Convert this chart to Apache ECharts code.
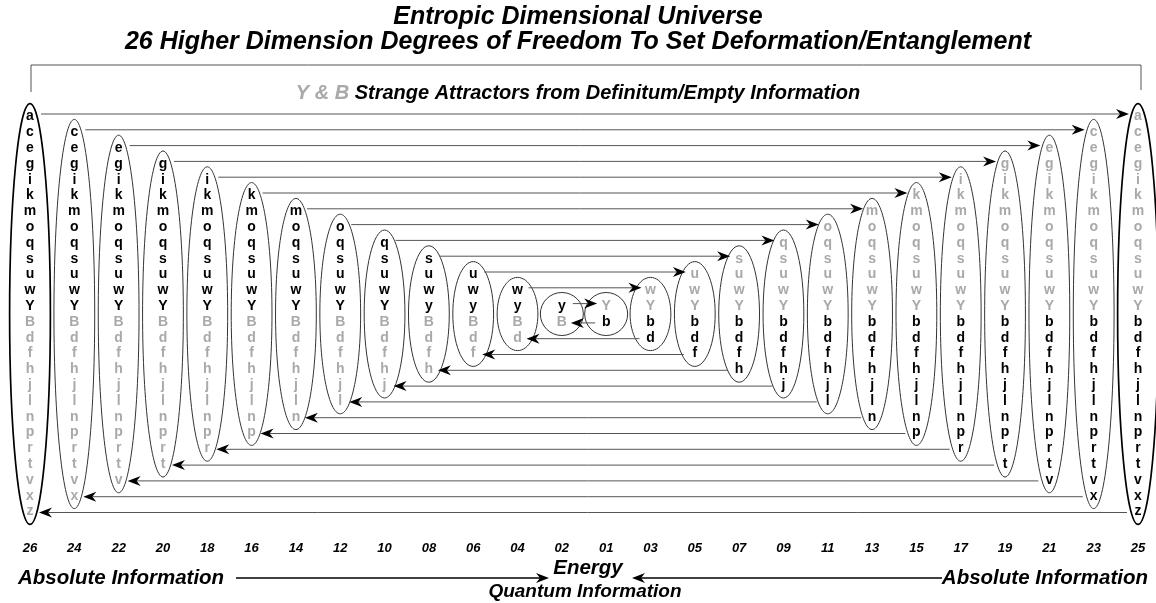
<!DOCTYPE html>
<html>
<head>
<meta charset="utf-8">
<script src="https://cdn.jsdelivr.net/npm/echarts@6/dist/echarts.min.js"></script>
<style>
  html, body { margin: 0; padding: 0; background: #fff; }
  #main { width: 1156px; height: 603px; }
</style>
</head>
<body>
<div id="main"></div>
<script>
// columns: left half 26..02, then right half 01..25
var columnLabels = ['26', '24', '22', '20', '18', '16', '14', '12', '10', '08', '06', '04', '02',
  '01', '03', '05', '07', '09', '11', '13', '15', '17', '19', '21', '23', '25']

// letters inside each ellipse, top to bottom
var columnLetters = [
  'acegikmoqsuwYBdfhjlnprtvxz',
  'cegikmoqsuwYBdfhjlnprtvx',
  'egikmoqsuwYBdfhjlnprtv',
  'gikmoqsuwYBdfhjlnprt',
  'ikmoqsuwYBdfhjlnpr',
  'kmoqsuwYBdfhjlnp',
  'moqsuwYBdfhjln',
  'oqsuwYBdfhjl',
  'qsuwYBdfhj',
  'suwyBdfh',
  'uwyBdf',
  'wyBd',
  'yB',
  'Yb',
  'wYbd',
  'uwYbdf',
  'suwYbdfh',
  'qsuwYbdfhj',
  'oqsuwYbdfhjl',
  'moqsuwYbdfhjln',
  'kmoqsuwYbdfhjlnp',
  'ikmoqsuwYbdfhjlnpr',
  'gikmoqsuwYbdfhjlnprt',
  'egikmoqsuwYbdfhjlnprtv',
  'cegikmoqsuwYbdfhjlnprtvx',
  'acegikmoqsuwYbdfhjlnprtvxz'
]

var FONT = '"Liberation Sans", Arial, Helvetica, sans-serif'
var GREY = '#a9a9a9'

window.onload = function () {
  var chart = echarts.init(document.getElementById('main'))

  // letters: left columns black on top, right columns black on bottom
  var letterItems = []
  columnLetters.forEach(function (s, col) {
    var n = s.length
    for (var i = 0; i < n; i++) {
      var firstHalf = i < n / 2
      var black = col < 13 ? firstHalf : !firstHalf
      letterItems.push({ col: col, row: i - (n - 1) / 2, ch: s[i], black: black })
    }
  })

  var ellipseData = columnLetters.map(function (s, col) {
    return [col, s.length]
  })

  // arrows: top goes left->right, bottom goes right->left
  var arrowData = []
  for (var p = 0; p < 13; p++) {
    var n = columnLetters[p].length
    arrowData.push([p, 25 - p, -(n - 1) / 2, 0])
    arrowData.push([25 - p, p, (n - 1) / 2, 1])
  }

  function arrowHead(tip, y, d) {
    return {
      type: 'polygon',
      shape: { points: [[tip, y], [tip - d * 13, y - 5], [tip - d * 9, y], [tip - d * 13, y + 5]] },
      style: { fill: '#000' }
    }
  }

  var titleStyle = { fontSize: 25, fontWeight: 'bold', fontStyle: 'italic', color: '#000', fontFamily: FONT }

  var option = {
    animation: false,
    title: [
      { text: 'Entropic Dimensional Universe', left: 'center', top: 0, textStyle: titleStyle },
      { text: '26 Higher Dimension Degrees of Freedom To Set Deformation/Entanglement', left: 'center', top: 25, textStyle: titleStyle },
      {
        text: '{g|Y & B} Strange Attractors from Definitum/Empty Information',
        left: 'center',
        top: 78,
        textStyle: {
          fontSize: 20, fontWeight: 'bold', fontStyle: 'italic', color: '#000', fontFamily: FONT,
          rich: { g: { fontSize: 20, fontWeight: 'bold', fontStyle: 'italic', color: GREY, fontFamily: FONT } }
        }
      }
    ],
    grid: { left: 30, right: 18, top: 77, bottom: 67.8 },
    xAxis: {
      type: 'category',
      data: columnLabels,
      boundaryGap: false,
      axisLine: { show: false },
      axisTick: { show: false },
      splitLine: { show: false },
      axisLabel: { margin: 7, color: '#000', fontSize: 13, fontWeight: 'bold', fontStyle: 'italic', fontFamily: FONT }
    },
    yAxis: { type: 'value', inverse: true, min: -15, max: 14, show: false },
    series: [
      {
        type: 'custom',
        silent: true,
        data: ellipseData,
        renderItem: function (params, api) {
          var c = api.coord([api.value(0), 0])
          var n = api.value(1)
          var rx = api.size([1, 0])[0] * 0.46
          var ry = api.size([0, n / 2])[1] + 5
          if (n === 2) { rx = 21.5; ry = 21.5 }
          var outer = n === 26
          return {
            type: 'ellipse',
            shape: { cx: c[0], cy: c[1], rx: rx, ry: ry },
            style: { fill: 'none', stroke: outer ? '#000' : '#333', lineWidth: outer ? 1.7 : 1 }
          }
        }
      },
      {
        type: 'custom',
        silent: true,
        encode: { x: 0, y: 2 },
        data: arrowData,
        renderItem: function (params, api) {
          var a = api.coord([api.value(0), api.value(2)])
          var b = api.coord([api.value(1), api.value(2)])
          var d = b[0] > a[0] ? 1 : -1
          var y = a[1] + (api.value(3) ? 1 : -2.5)
          var x1 = a[0] + d * 11
          var tip = b[0] - d * 9
          return {
            type: 'group',
            children: [
              { type: 'line', shape: { x1: x1, y1: y, x2: tip - d * 9, y2: y }, style: { stroke: '#555', lineWidth: 1 } },
              arrowHead(tip, y, d)
            ]
          }
        }
      },
      {
        type: 'custom',
        silent: true,
        data: letterItems.map(function (l) { return [l.col, l.row] }),
        renderItem: function (params, api) {
          var l = letterItems[params.dataIndex]
          var pt = api.coord([api.value(0), api.value(1)])
          return {
            type: 'text',
            x: pt[0],
            y: pt[1],
            style: {
              text: l.ch,
              fill: l.black ? '#000' : GREY,
              font: 'bold 14px ' + FONT,
              align: 'center',
              verticalAlign: 'middle'
            }
          }
        }
      }
    ],
    graphic: [
      // top bracket
      { type: 'polyline', shape: { points: [[31, 92], [31, 65], [1141, 65], [1141, 90]] }, style: { stroke: '#555', lineWidth: 1, fill: null } },
      // bottom captions
      { type: 'text', x: 18, y: 578, style: { text: 'Absolute Information', font: 'italic bold 20.5px ' + FONT, fill: '#000', verticalAlign: 'middle' } },
      { type: 'line', shape: { x1: 236, y1: 578, x2: 540, y2: 578 }, style: { stroke: '#000', lineWidth: 1.5 } },
      { type: 'polygon', shape: { points: [[549, 578], [536, 573], [540, 578], [536, 583]] }, style: { fill: '#000' } },
      { type: 'text', x: 588, y: 568, style: { text: 'Energy', font: 'italic bold 20.5px ' + FONT, fill: '#000', align: 'center', verticalAlign: 'middle' } },
      { type: 'text', x: 585, y: 592, style: { text: 'Quantum Information', font: 'italic bold 19px ' + FONT, fill: '#000', align: 'center', verticalAlign: 'middle' } },
      { type: 'line', shape: { x1: 641, y1: 578, x2: 942, y2: 578 }, style: { stroke: '#000', lineWidth: 1.5 } },
      { type: 'polygon', shape: { points: [[632, 578], [645, 573], [641, 578], [645, 583]] }, style: { fill: '#000' } },
      { type: 'text', x: 1148, y: 578, style: { text: 'Absolute Information', font: 'italic bold 20.5px ' + FONT, fill: '#000', align: 'right', verticalAlign: 'middle' } }
    ]
  }
  chart.setOption(option)
}
</script>
</body>
</html>
